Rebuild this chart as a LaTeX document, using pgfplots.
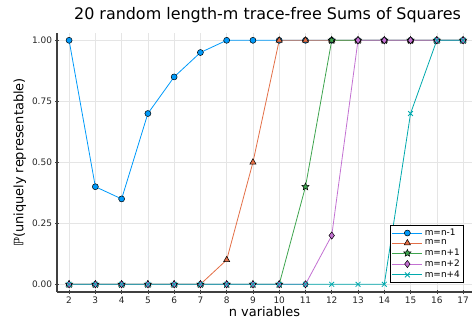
\documentclass[border=0pt]{standalone}
\usepackage{fontspec}
\setmainfont{DejaVu Sans}
\usepackage{pgfplots}
\pgfplotsset{compat=1.18}
\definecolor{c1}{RGB}{0,154,250}
\definecolor{c2}{RGB}{227,111,71}
\definecolor{c3}{RGB}{62,164,78}
\definecolor{c4}{RGB}{195,113,210}
\definecolor{c5}{RGB}{0,169,173}
\pgfdeclareplotmark{star5}{%
  \pgfpathmoveto{\pgfpointpolar{90}{\pgfplotmarksize}}%
  \pgfpathlineto{\pgfpointpolar{126}{0.45\pgfplotmarksize}}%
  \pgfpathlineto{\pgfpointpolar{162}{\pgfplotmarksize}}%
  \pgfpathlineto{\pgfpointpolar{198}{0.45\pgfplotmarksize}}%
  \pgfpathlineto{\pgfpointpolar{234}{\pgfplotmarksize}}%
  \pgfpathlineto{\pgfpointpolar{270}{0.45\pgfplotmarksize}}%
  \pgfpathlineto{\pgfpointpolar{306}{\pgfplotmarksize}}%
  \pgfpathlineto{\pgfpointpolar{342}{0.45\pgfplotmarksize}}%
  \pgfpathlineto{\pgfpointpolar{18}{\pgfplotmarksize}}%
  \pgfpathlineto{\pgfpointpolar{54}{0.45\pgfplotmarksize}}%
  \pgfpathclose\pgfusepathqfillstroke}
\begin{document}
\begin{tikzpicture}
\clip (0,0) rectangle (472bp,320bp);
\path[use as bounding box] (0,0) rectangle (472bp,320bp);
\begin{axis}[
  at={(57bp,28bp)}, anchor=south west,
  scale only axis, width=415bp, height=259bp,
  xmin=1.54, xmax=17.34, ymin=-0.0315, ymax=1.03,
  xtick={2,3,...,17},
  ytick={0,0.25,0.5,0.75,1},
  yticklabel style={/pgf/number format/.cd, fixed, fixed zerofill, precision=2},
  /pgf/number format/assume math mode=true,
  ticklabel style={font=\fontsize{9}{10}\selectfont, text=black!85},
  axis x line*=bottom, axis y line*=left,
  axis line style={-, black!75, line width=1.1bp},
  tick style={black!75, line width=0.6bp},
  major tick length=3bp, tick align=center,
  grid=major, grid style={black!10, line width=0.5bp},
  title={20 random length-m trace-free Sums of Squares},
  title style={font=\fontsize{16}{18}\selectfont, at={(0.5,1)}, anchor=south, yshift=1bp, xshift=3bp},
  xlabel={n variables},
  xlabel style={font=\fontsize{13}{15}\selectfont, yshift=3.5bp},
  ylabel={ℙ(uniquely representable)},
  ylabel style={font=\fontsize{13}{15}\selectfont, yshift=-1bp},
  legend style={at={(1,0)}, anchor=south east, xshift=-8bp, yshift=9bp,
    font=\fontsize{9}{10}\selectfont, draw=black, line width=0.6bp,
    inner sep=1.8bp, row sep=-1.2bp, cells={anchor=west}},
  legend cell align=left,
  legend image code/.code={\draw[mark repeat=2,mark phase=2] plot coordinates {(0bp,0bp) (15bp,0bp) (30bp,0bp)};},
  every axis plot/.append style={line width=0.8bp},
  mark size=3bp,
]
\addplot[c1, mark=*, mark options={fill=c1, draw=black, line width=0.5bp}] coordinates {
(2,1) (3,0.4) (4,0.35) (5,0.7) (6,0.85) (7,0.95) (8,1) (9,1) (10,1) (11,1) (12,1) (13,1) (14,1) (15,1) (16,1) (17,1)};
\addlegendentry{m=n-1}
\addplot[c2, mark=triangle*, mark size=3.6bp, mark options={fill=c2, draw=black, line width=0.5bp}] coordinates {
(2,0) (3,0) (4,0) (5,0) (6,0) (7,0) (8,0.1) (9,0.5) (10,1) (11,1) (12,1) (13,1) (14,1) (15,1) (16,1) (17,1)};
\addlegendentry{m=n}
\addplot[c3, mark=star5, mark size=3.8bp, mark options={fill=c3, draw=black, line width=0.5bp}] coordinates {
(2,0) (3,0) (4,0) (5,0) (6,0) (7,0) (8,0) (9,0) (10,0) (11,0.4) (12,1) (13,1) (14,1) (15,1) (16,1) (17,1)};
\addlegendentry{m=n+1}
\addplot[c4, mark=diamond*, mark size=3.6bp, mark options={fill=c4, draw=black, line width=0.5bp}] coordinates {
(2,0) (3,0) (4,0) (5,0) (6,0) (7,0) (8,0) (9,0) (10,0) (11,0) (12,0.2) (13,1) (14,1) (15,1) (16,1) (17,1)};
\addlegendentry{m=n+2}
\addplot[c5, mark=x, mark size=3.4bp, mark options={draw=c5, line width=0.8bp}] coordinates {
(2,0) (3,0) (4,0) (5,0) (6,0) (7,0) (8,0) (9,0) (10,0) (11,0) (12,0) (13,0) (14,0) (15,0.7) (16,1) (17,1)};
\addlegendentry{m=n+4}
\end{axis}
\end{tikzpicture}
\end{document}
